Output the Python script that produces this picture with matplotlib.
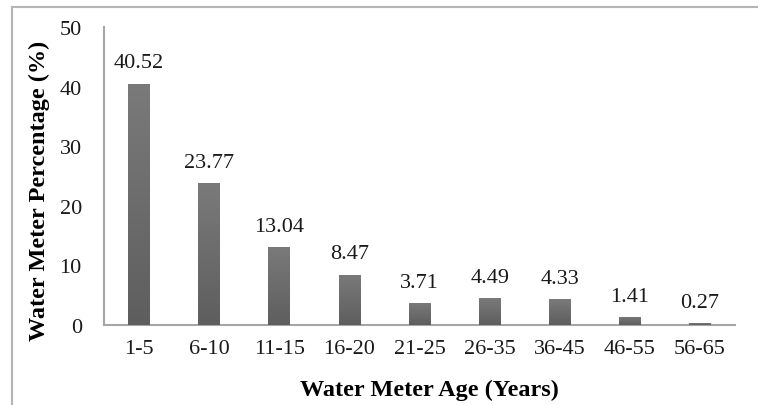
import numpy as np
import matplotlib
matplotlib.use("Agg")
import matplotlib.pyplot as plt
from matplotlib.lines import Line2D

categories = ["1-5", "6-10", "11-15", "16-20", "21-25", "26-35", "36-45", "46-55", "56-65"]
percentages = [40.52, 23.77, 13.04, 8.47, 3.71, 4.49, 4.33, 1.41, 0.27]
y_ticks = [0, 10, 20, 30, 40, 50]

plt.rcParams["font.family"] = ["Liberation Serif", "DejaVu Serif"]

fig = plt.figure(figsize=(7.58, 4.06), dpi=100)
ax = fig.add_axes([0.1372, 0.197, 0.8325, 0.734])

x = np.arange(len(categories))
bar_w = 0.31
bars = ax.bar(x, percentages, width=bar_w, color="#6c6c6c", zorder=2)

# vertical gray gradient inside each bar
grad = np.linspace(0, 1, 256).reshape(-1, 1)
cmap = matplotlib.colors.LinearSegmentedColormap.from_list("g", ["#5e5e5e", "#7a7a7a"])
for b in bars:
    x0, w, h = b.get_x(), b.get_width(), b.get_height()
    if h <= 0:
        continue
    im = ax.imshow(grad, cmap=cmap, aspect="auto", origin="lower",
                   extent=[x0, x0 + w, 0, h], zorder=3)
    im.set_clip_path(b)

for xi, v in zip(x, percentages):
    ax.annotate(f"{v:.2f}", (xi, v), xytext=(0, 8), textcoords="offset points",
                ha="center", va="bottom", fontsize=16, color="#1a1a1a")

ax.set_xlim(-0.5, len(categories) - 0.5)
ax.set_ylim(0, 50)
ax.set_yticks(y_ticks)
ax.set_xticks(x)
ax.set_xticklabels(categories)
ax.tick_params(axis="both", length=0, labelsize=16, colors="#1a1a1a")
ax.tick_params(axis="x", pad=10)
ax.tick_params(axis="y", pad=16)

for s in ["top", "right"]:
    ax.spines[s].set_visible(False)
for s in ["left", "bottom"]:
    ax.spines[s].set_color("#a6a6a6")
    ax.spines[s].set_linewidth(1.5)

ax.set_xlabel("Water Meter Age (Years)", fontsize=17.5, fontweight="bold")
ax.set_ylabel("Water Meter Percentage (%)", fontsize=17.5, fontweight="bold")
ax.xaxis.set_label_coords(0.515, -0.18)
ax.yaxis.set_label_coords(-0.0856, 0.453)

# outer frame on the left and top edges
fig.add_artist(Line2D([12 / 758, 12 / 758], [0, 1 - 8 / 406], transform=fig.transFigure,
                      color="#b4b4b4", linewidth=1.5))
fig.add_artist(Line2D([12 / 758, 1], [1 - 8 / 406, 1 - 8 / 406], transform=fig.transFigure,
                      color="#b4b4b4", linewidth=1.5))

fig.savefig("out.png", dpi=100)
